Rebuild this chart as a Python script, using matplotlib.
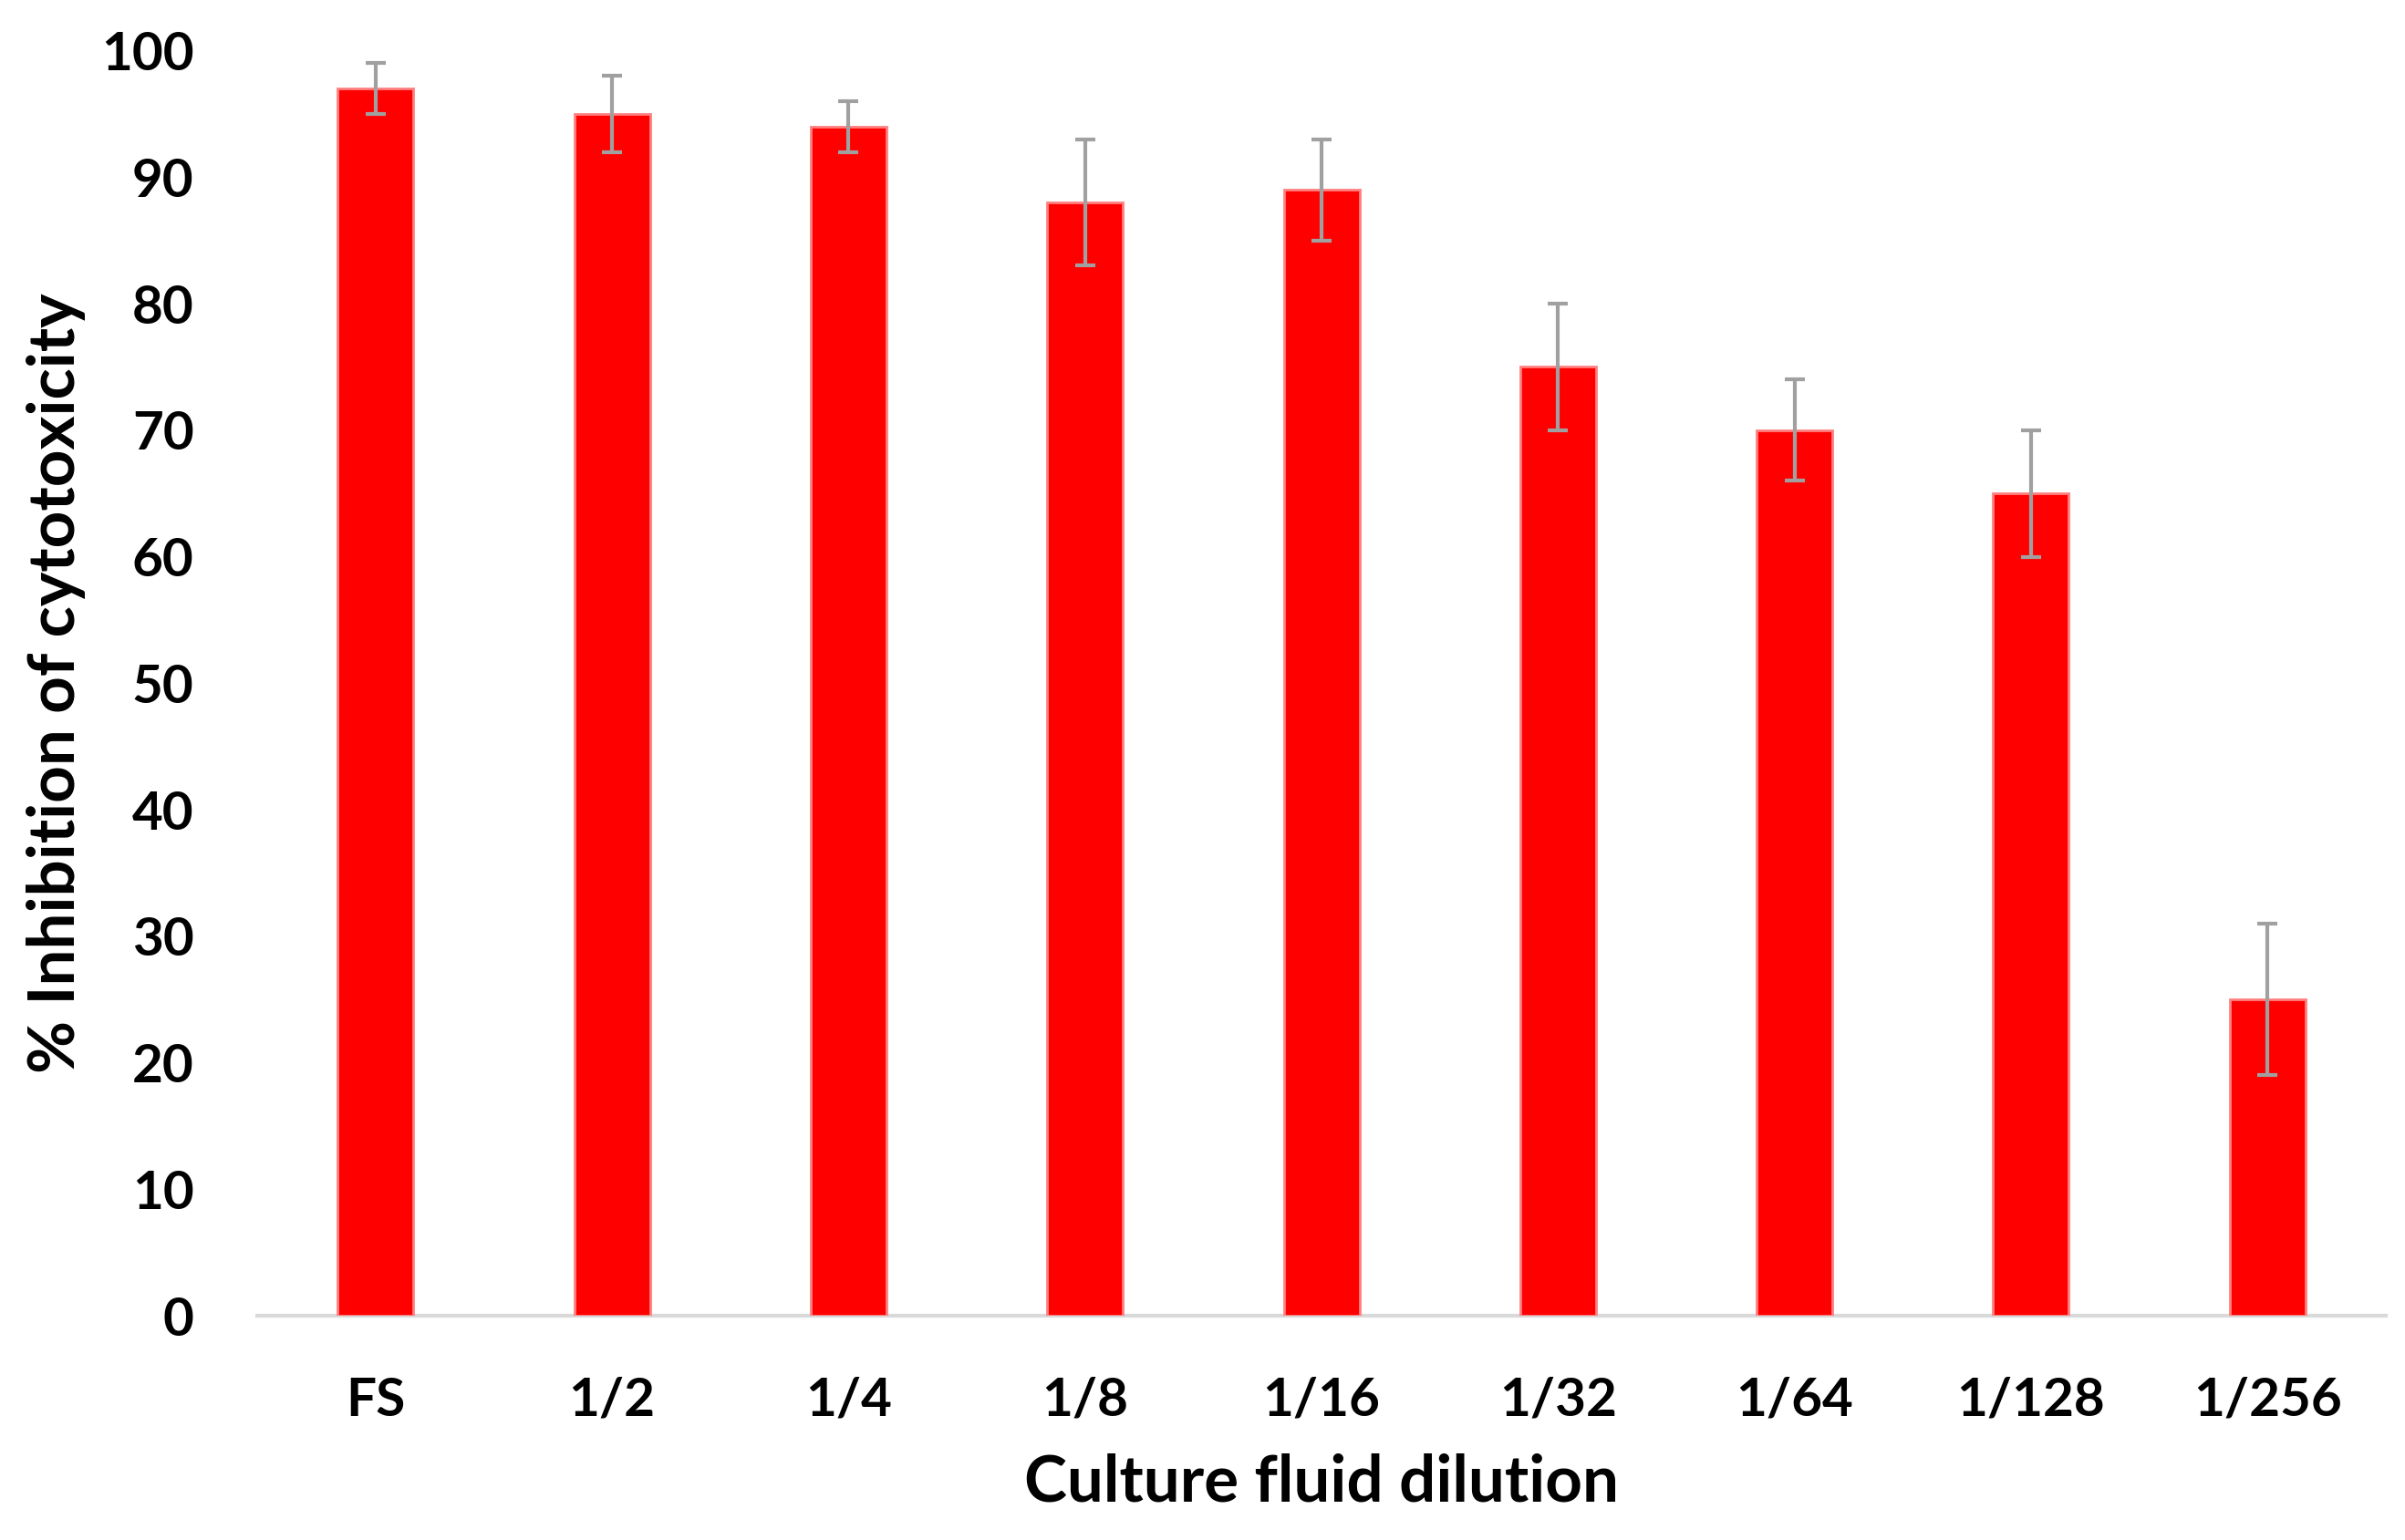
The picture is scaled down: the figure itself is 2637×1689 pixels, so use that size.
import matplotlib
matplotlib.use('Agg')
from matplotlib import pyplot as plt
import numpy as np

dilutions = ['FS', '1/2', '1/4', '1/8', '1/16', '1/32', '1/64', '1/128', '1/256']
inhibition = [97, 95, 94, 88, 89, 75, 70, 65, 25]
errors = [2, 3, 2, 5, 4, 5, 4, 5, 6]
y_ticks = [0, 10, 20, 30, 40, 50, 60, 70, 80, 90, 100]

plt.rcParams['font.family'] = ['Lato', 'DejaVu Sans']
plt.rcParams['font.weight'] = 'bold'

fig = plt.figure(figsize=(26.37, 16.89), dpi=100)
ax = fig.add_axes([0.107, 0.1456, 0.885, 0.8215])

x = np.arange(len(dilutions))
ax.bar(x, inhibition, width=0.32, color='#ff0000', edgecolor='#ff8080', linewidth=2,
       yerr=errors, error_kw=dict(ecolor='#a0a0a0', elinewidth=3, capsize=8, capthick=3),
       zorder=2)

ax.set_xlim(-0.5, len(dilutions) - 0.5)
ax.set_ylim(0, 100)
ax.set_xticks(x)
ax.set_xticklabels(dilutions)
ax.set_yticks(y_ticks)

for side in ['top', 'right', 'left']:
    ax.spines[side].set_visible(False)
ax.spines['bottom'].set_color('#d9d9d9')
ax.spines['bottom'].set_linewidth(3)
ax.spines['bottom'].set_zorder(1)

ax.tick_params(axis='both', length=0, labelsize=42)
ax.tick_params(axis='x', pad=48)
ax.tick_params(axis='y', pad=50)
for lbl in ax.get_xticklabels() + ax.get_yticklabels():
    lbl.set_fontweight('bold')

ax.set_xlabel('Culture fluid dilution', fontsize=51, fontweight='bold', labelpad=22)
ax.set_ylabel('% Inhibition of cytotoxicity', fontsize=51, fontweight='bold', labelpad=12)

plt.savefig('out.png', dpi=100)
